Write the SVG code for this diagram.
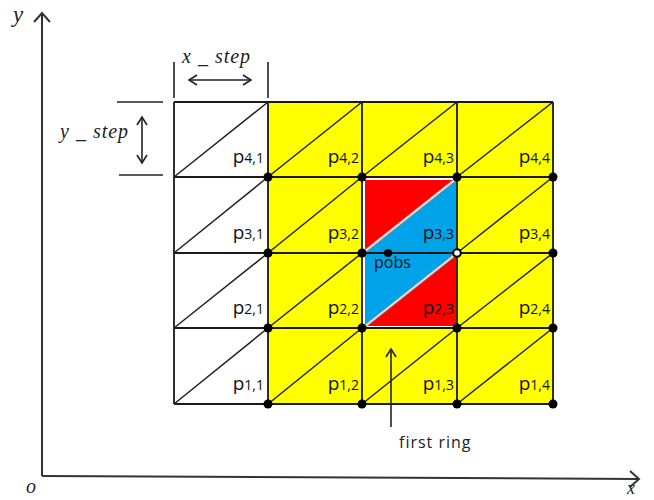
<svg xmlns="http://www.w3.org/2000/svg" width="654" height="500" viewBox="0 0 654 500">
<style>
.grid{stroke:#1a1a1a;stroke-width:1.8;fill:none}
.diag{stroke:#222;stroke-width:1.5;fill:none}
.wdiag{stroke:#9a9a9a;stroke-width:3;fill:none}
.wdiag2{stroke:#f4f4f4;stroke-width:1.2;fill:none}
.ax{stroke:#333;stroke-width:2;fill:none}
.dim{stroke:#222;stroke-width:1.6;fill:none}
.lbl{font-family:"Open Sans","Noto Sans",sans-serif;fill:#111;text-anchor:end}
.big{font-size:19px}
.sm{font-size:14px}
.it{font-family:"Liberation Serif",serif;font-style:italic;fill:#222}
.dot{fill:#000}
</style>
<defs>
<marker id="chev" markerWidth="12" markerHeight="12" refX="9" refY="6" orient="auto-start-reverse" markerUnits="userSpaceOnUse">
<path d="M1,1 L9,6 L1,11" fill="none" stroke="#222" stroke-width="1.6"/>
</marker>
<marker id="achev" markerWidth="14" markerHeight="18" refX="10" refY="9" orient="auto" markerUnits="userSpaceOnUse">
<path d="M1,1 L10,9 L1,17" fill="none" stroke="#333" stroke-width="2"/>
</marker>
</defs>

<g id="axes">
<line class="ax" x1="42" y1="476" x2="42" y2="13" marker-end="url(#achev)"/>
<line class="ax" x1="42" y1="476" x2="639" y2="479" marker-end="url(#achev)"/>
<text class="it" x="13" y="22" font-size="23">y</text>
<text class="it" x="26" y="493" font-size="20">o</text>
<text class="it" x="627" y="494" font-size="18">x</text>
</g>

<g id="fills">
<rect x="268" y="102" width="285" height="302" fill="#ffff00"/>
<rect x="362" y="177" width="95" height="151" fill="#ffffff"/>
<polygon points="365,180 456,180 365,253" fill="#ff0000"/>
<polygon points="456,180 456,253 365,253" fill="#00a2e8"/>
<polygon points="365,253 456,253 365,326" fill="#00a2e8"/>
<polygon points="456,253 456,326 365,326" fill="#ff0000"/>
</g>

<g id="grid">
<path class="grid" d="M174,102 H553 M174,177 H553 M174,253 H553 M174,328 H553 M174,404 H553 M174,102 V404 M268,102 V404 M362,102 V404 M457,102 V404 M553,102 V404"/>
<path class="diag" d="M174,177 L268,102 M268,177 L362,102 M362,177 L457,102 M457,177 L553,102
M174,253 L268,177 M268,253 L362,177 M457,253 L553,177
M174,328 L268,253 M268,328 L362,253 M457,328 L553,253
M174,404 L268,328 M268,404 L362,328 M362,404 L457,328 M457,404 L553,328"/>
<path class="wdiag" d="M364,252 L456,179 M364,327 L456,254"/>
<path class="wdiag2" d="M364,252 L456,179 M364,327 L456,254"/>
</g>

<g id="dots">
<circle class="dot" cx="268" cy="177" r="4.5"/><circle class="dot" cx="362" cy="177" r="4.5"/><circle class="dot" cx="457" cy="177" r="4.5"/><circle class="dot" cx="553" cy="177" r="4.5"/>
<circle class="dot" cx="268" cy="253" r="4.5"/><circle class="dot" cx="362" cy="253" r="4.5"/><circle cx="457" cy="253" r="3.8" fill="#fff" stroke="#000" stroke-width="2"/><circle class="dot" cx="553" cy="253" r="4.5"/>
<circle class="dot" cx="268" cy="328" r="4.5"/><circle class="dot" cx="362" cy="328" r="4.5"/><circle class="dot" cx="457" cy="328" r="4.5"/><circle class="dot" cx="553" cy="328" r="4.5"/>
<circle class="dot" cx="268" cy="404" r="4.5"/><circle class="dot" cx="362" cy="404" r="4.5"/><circle class="dot" cx="457" cy="404" r="4.5"/><circle class="dot" cx="553" cy="404" r="4.5"/>
<circle class="dot" cx="388" cy="253" r="4"/>
</g>

<g id="labels">
<text class="lbl" x="264" y="163"><tspan class="big">p</tspan><tspan class="sm">4,1</tspan></text>
<text class="lbl" x="359" y="163"><tspan class="big">p</tspan><tspan class="sm">4,2</tspan></text>
<text class="lbl" x="454" y="163"><tspan class="big">p</tspan><tspan class="sm">4,3</tspan></text>
<text class="lbl" x="550" y="163"><tspan class="big">p</tspan><tspan class="sm">4,4</tspan></text>
<text class="lbl" x="264" y="239"><tspan class="big">p</tspan><tspan class="sm">3,1</tspan></text>
<text class="lbl" x="359" y="239"><tspan class="big">p</tspan><tspan class="sm">3,2</tspan></text>
<text class="lbl" x="454" y="239"><tspan class="big">p</tspan><tspan class="sm">3,3</tspan></text>
<text class="lbl" x="550" y="239"><tspan class="big">p</tspan><tspan class="sm">3,4</tspan></text>
<text class="lbl" x="264" y="314"><tspan class="big">p</tspan><tspan class="sm">2,1</tspan></text>
<text class="lbl" x="359" y="314"><tspan class="big">p</tspan><tspan class="sm">2,2</tspan></text>
<text class="lbl" x="454" y="314"><tspan class="big">p</tspan><tspan class="sm">2,3</tspan></text>
<text class="lbl" x="550" y="314"><tspan class="big">p</tspan><tspan class="sm">2,4</tspan></text>
<text class="lbl" x="264" y="390"><tspan class="big">p</tspan><tspan class="sm">1,1</tspan></text>
<text class="lbl" x="359" y="390"><tspan class="big">p</tspan><tspan class="sm">1,2</tspan></text>
<text class="lbl" x="454" y="390"><tspan class="big">p</tspan><tspan class="sm">1,3</tspan></text>
<text class="lbl" x="550" y="390"><tspan class="big">p</tspan><tspan class="sm">1,4</tspan></text>
<text x="374" y="268" font-family="'Open Sans','Noto Sans',sans-serif" font-size="16" fill="#111">pobs</text>
</g>

<g id="dimensions">
<line class="dim" x1="174" y1="62" x2="174" y2="98"/>
<line class="dim" x1="268" y1="62" x2="268" y2="98"/>
<line class="dim" x1="189" y1="80" x2="251" y2="80" marker-start="url(#chev)" marker-end="url(#chev)"/>
<text class="it" x="182" y="63" font-size="20" letter-spacing="1">x _ step</text>
<line class="dim" x1="117" y1="102" x2="163" y2="102"/>
<line class="dim" x1="119" y1="175" x2="163" y2="175"/>
<line class="dim" x1="142" y1="117" x2="142" y2="163" marker-start="url(#chev)" marker-end="url(#chev)"/>
<text class="it" x="60" y="138" font-size="20" letter-spacing="1">y _ step</text>
</g>

<g id="first-ring">
<line class="dim" x1="391" y1="427" x2="391" y2="349" marker-end="url(#chev)"/>
<text x="399" y="448" font-family="'Open Sans','Noto Sans',sans-serif" font-size="16" letter-spacing="1" fill="#222">first ring</text>
</g>
</svg>
